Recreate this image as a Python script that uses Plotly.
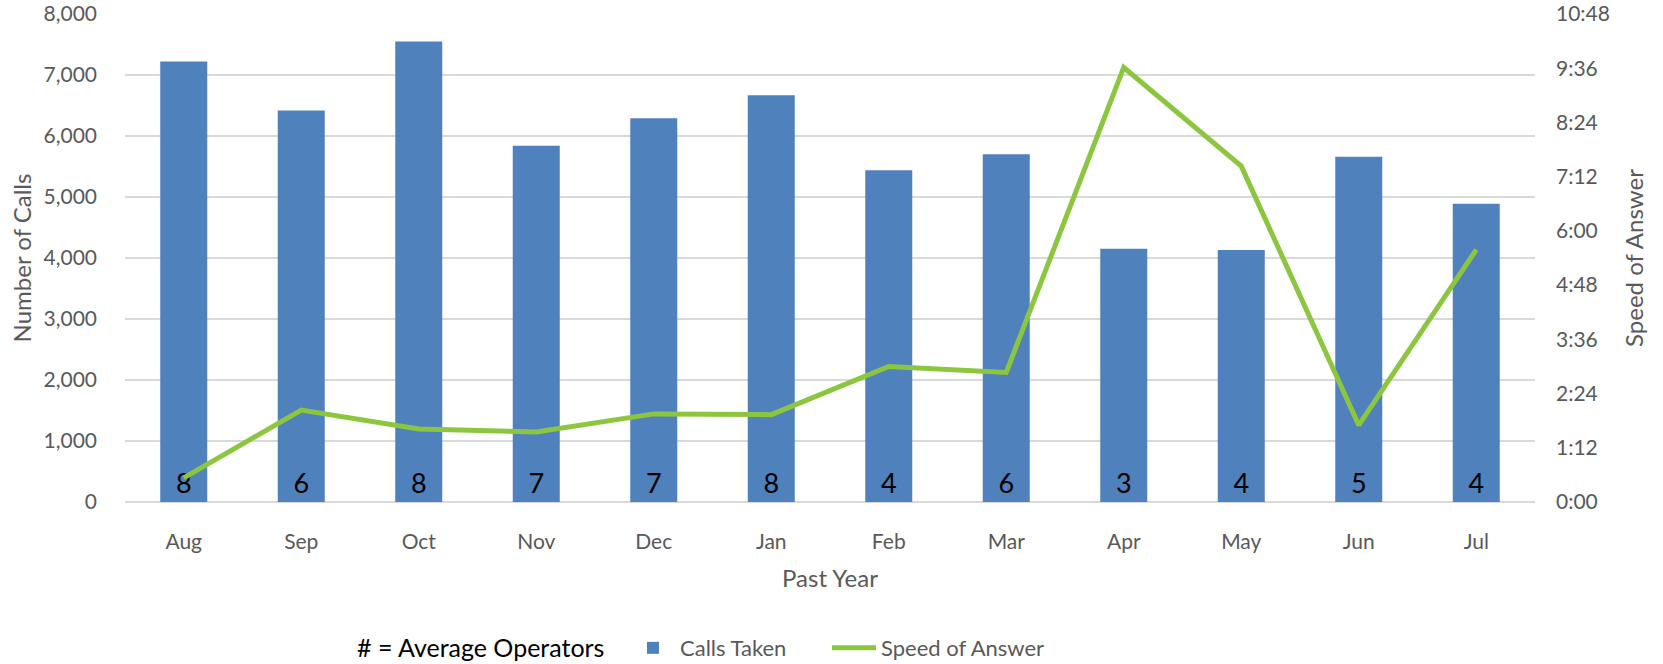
import plotly.graph_objects as go

months = ["Aug", "Sep", "Oct", "Nov", "Dec", "Jan", "Feb", "Mar", "Apr", "May", "Jun", "Jul"]
calls_taken = [7220, 6420, 7550, 5840, 6290, 6670, 5440, 5700, 4150, 4130, 5660, 4890]
# speed of answer in seconds
speed_sec = [32, 122, 97, 93, 117, 116, 180, 172, 577, 446, 102, 335]
operators = [8, 6, 8, 7, 7, 8, 4, 6, 3, 4, 5, 4]

left_ticks = [0, 1000, 2000, 3000, 4000, 5000, 6000, 7000, 8000]
right_tickvals = [0, 72, 144, 216, 288, 360, 432, 504, 576, 648]
right_ticktext = ["0:00", "1:12", "2:24", "3:36", "4:48", "6:00", "7:12", "8:24", "9:36", "10:48"]

FONT = "Lato, 'Open Sans', sans-serif"
GREY = "#595959"

fig = go.Figure()
fig.add_trace(go.Bar(
    x=months, y=calls_taken, name="Calls Taken",
    marker=dict(color="#4f81bd", line=dict(width=0)),
    text=[str(o) for o in operators],
    textposition="inside", insidetextanchor="start",
    textfont=dict(size=27, color="black", family=FONT),
    constraintext="none", textangle=0,
    width=0.4, hoverinfo="skip", legendwidth=142,
))
fig.add_trace(go.Scatter(
    x=months, y=speed_sec, name="Speed of Answer", yaxis="y2",
    mode="lines", line=dict(color="#8cc63f", width=5), legendwidth=190,
))

fig.update_layout(
    width=1663, height=664,
    margin=dict(l=125, r=128, t=14, b=162, autoexpand=False),
    plot_bgcolor="white", paper_bgcolor="white",
    font=dict(family=FONT, color=GREY, size=21),
    showlegend=True,
    legend=dict(orientation="h", xref="container", yref="container",
                x=626 / 1663, xanchor="left", y=0.024, yanchor="middle",
                font=dict(size=22, color=GREY, family=FONT), itemwidth=44,
                entrywidthmode="pixels",
                traceorder="normal"),
    xaxis=dict(showgrid=False, showline=False, ticks="", automargin=False,
               tickfont=dict(size=21, color=GREY), ticklabelstandoff=25,
               title=dict(text="Past Year", font=dict(size=24, color=GREY), standoff=18)),
    yaxis=dict(range=[0, 8000], tickvals=left_ticks, tickformat=",d", automargin=False,
               showgrid=True, gridcolor="#d9d9d9", gridwidth=1.5,
               zeroline=True, zerolinecolor="#d9d9d9", zerolinewidth=1.5,
               ticks="", tickfont=dict(size=21, color=GREY), ticklabelstandoff=27,
               title=dict(text="Number of Calls", font=dict(size=24, color=GREY), standoff=5)),
    yaxis2=dict(overlaying="y", side="right", range=[0, 648], automargin=False,
                tickvals=right_tickvals, ticktext=right_ticktext,
                showgrid=False, zeroline=False, ticks="", ticklabelstandoff=20,
                tickfont=dict(size=21, color=GREY),
                title=dict(text="Speed of Answer", font=dict(size=24, color=GREY), standoff=17)),
    annotations=[dict(text="# = Average Operators", xref="paper", yref="paper",
                      x=(606 - 125) / 1410, y=-(647 - 502) / 488, xanchor="right", yanchor="middle",
                      showarrow=False,
                      font=dict(size=25, color="black", family=FONT))],
)

fig.write_html("out.html", config={"displayModeBar": False},
               post_script="document.body.style.margin='0px';")
